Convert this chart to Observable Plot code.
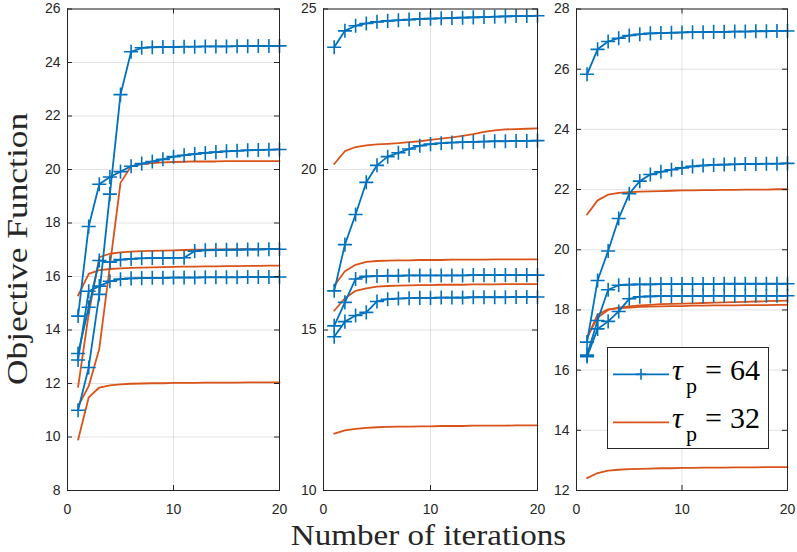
<!DOCTYPE html>
<html>
<head>
<meta charset="utf-8">
<script src="https://cdn.jsdelivr.net/npm/d3@7"></script>
<script src="https://cdn.jsdelivr.net/npm/@observablehq/plot@0.6"></script>
<style>
  html, body { margin: 0; padding: 0; background: #fff; }
  #wrap { position: relative; width: 797px; height: 552px; overflow: hidden; }
  #wrap svg { position: absolute; top: 0; }
</style>
</head>
<body>
<div id="wrap"></div>
<script>
// ---------- data ----------
const iters = [1,2,3,4,5,6,7,8,9,10,11,12,13,14,15,16,17,18,19,20];
const xTicks = [0, 10, 20];

// Panel 1
const p1Ticks = [8,10,12,14,16,18,20,22,24,26];
const p1_64a = [11.0, 12.6, 15.33, 19.08, 22.8, 24.4, 24.55, 24.57, 24.58, 24.58, 24.59, 24.59, 24.6, 24.6, 24.6, 24.61, 24.61, 24.62, 24.62, 24.62];
const p1_64b = [14.52, 17.87, 19.45, 19.72, 19.92, 20.12, 20.22, 20.3, 20.38, 20.48, 20.53, 20.58, 20.62, 20.65, 20.68, 20.7, 20.72, 20.73, 20.74, 20.75];
const p1_64c = [13.12, 14.85, 16.6, 16.53, 16.63, 16.66, 16.68, 16.69, 16.69, 16.7, 16.7, 16.95, 16.98, 16.99, 17.0, 17.0, 17.01, 17.01, 17.02, 17.02];
const p1_64d = [12.88, 15.45, 15.64, 15.82, 15.9, 15.93, 15.94, 15.95, 15.95, 15.96, 15.96, 15.96, 15.97, 15.97, 15.97, 15.97, 15.98, 15.98, 15.98, 15.98];
const p1_32a = [11.15, 11.9, 13.3, 16.4, 19.5, 20.12, 20.2, 20.24, 20.27, 20.28, 20.29, 20.3, 20.3, 20.3, 20.31, 20.31, 20.31, 20.31, 20.31, 20.31];
const p1_32b = [11.87, 14.6, 16.72, 16.85, 16.9, 16.93, 16.95, 16.96, 16.97, 16.98, 16.99, 17.0, 17.0, 17.01, 17.01, 17.02, 17.02, 17.02, 17.03, 17.03];
const p1_32c = [15.29, 16.1, 16.24, 16.28, 16.3, 16.32, 16.33, 16.34, 16.35, 16.36, 16.37, 16.37, 16.38, 16.38, 16.39, 16.39, 16.4, 16.4, 16.41, 16.41];
const p1_32d = [9.9, 11.48, 11.85, 11.93, 11.97, 11.99, 12.0, 12.01, 12.01, 12.02, 12.02, 12.02, 12.03, 12.03, 12.03, 12.03, 12.04, 12.04, 12.04, 12.04];

// Panel 2
const p2Ticks = [10,15,20,25];
const p2_64a = [23.81, 24.32, 24.48, 24.55, 24.6, 24.63, 24.65, 24.67, 24.69, 24.7, 24.71, 24.72, 24.73, 24.74, 24.75, 24.76, 24.77, 24.78, 24.78, 24.79];
const p2_64b = [16.22, 17.66, 18.6, 19.6, 20.13, 20.4, 20.52, 20.64, 20.74, 20.79, 20.82, 20.84, 20.85, 20.86, 20.87, 20.88, 20.88, 20.89, 20.89, 20.9];
const p2_64c = [15.13, 15.86, 16.59, 16.67, 16.68, 16.69, 16.69, 16.7, 16.7, 16.7, 16.7, 16.7, 16.7, 16.71, 16.71, 16.71, 16.71, 16.71, 16.71, 16.71];
const p2_64d = [14.79, 15.26, 15.45, 15.55, 15.89, 15.96, 15.98, 15.99, 16.0, 16.0, 16.01, 16.01, 16.01, 16.02, 16.02, 16.02, 16.02, 16.03, 16.03, 16.03];
const p2_32a = [20.17, 20.57, 20.7, 20.75, 20.78, 20.8, 20.82, 20.85, 20.88, 20.92, 20.96, 21.0, 21.05, 21.1, 21.17, 21.22, 21.25, 21.26, 21.27, 21.28];
const p2_32b = [16.38, 16.83, 17.03, 17.12, 17.15, 17.16, 17.17, 17.17, 17.18, 17.18, 17.18, 17.19, 17.19, 17.19, 17.19, 17.2, 17.2, 17.2, 17.2, 17.2];
const p2_32c = [15.6, 15.99, 16.22, 16.3, 16.35, 16.37, 16.38, 16.39, 16.4, 16.4, 16.41, 16.41, 16.41, 16.42, 16.42, 16.42, 16.43, 16.43, 16.43, 16.43];
const p2_32d = [11.77, 11.87, 11.92, 11.95, 11.97, 11.98, 11.99, 11.99, 12.0, 12.0, 12.01, 12.01, 12.01, 12.02, 12.02, 12.02, 12.02, 12.03, 12.03, 12.03];

// Panel 3
const p3Ticks = [12,14,16,18,20,22,24,26,28];
const p3_64a = [25.83, 26.66, 26.92, 27.03, 27.12, 27.16, 27.19, 27.2, 27.21, 27.22, 27.23, 27.23, 27.24, 27.24, 27.25, 27.25, 27.26, 27.26, 27.27, 27.27];
const p3_64b = [16.93, 18.98, 19.96, 21.04, 21.86, 22.28, 22.5, 22.59, 22.66, 22.72, 22.77, 22.8, 22.82, 22.83, 22.84, 22.85, 22.85, 22.86, 22.86, 22.87];
const p3_64c = [16.5, 17.65, 18.67, 18.82, 18.84, 18.85, 18.85, 18.86, 18.86, 18.86, 18.86, 18.86, 18.86, 18.87, 18.87, 18.87, 18.87, 18.87, 18.87, 18.87];
const p3_64d = [16.45, 17.37, 17.62, 17.95, 18.37, 18.44, 18.45, 18.46, 18.46, 18.46, 18.46, 18.46, 18.47, 18.47, 18.47, 18.47, 18.47, 18.47, 18.47, 18.47];
const p3_32a = [21.17, 21.64, 21.83, 21.89, 21.91, 21.93, 21.94, 21.95, 21.96, 21.97, 21.97, 21.98, 21.98, 21.99, 21.99, 22.0, 22.0, 22.0, 22.01, 22.01];
const p3_32b = [17.1, 17.75, 18.0, 18.08, 18.12, 18.15, 18.17, 18.19, 18.2, 18.21, 18.22, 18.23, 18.24, 18.25, 18.26, 18.27, 18.28, 18.29, 18.3, 18.31];
const p3_32c = [17.05, 17.85, 18.02, 18.06, 18.08, 18.1, 18.11, 18.12, 18.13, 18.13, 18.14, 18.14, 18.15, 18.15, 18.15, 18.16, 18.16, 18.16, 18.17, 18.17];
const p3_32d = [12.41, 12.58, 12.66, 12.69, 12.71, 12.72, 12.73, 12.74, 12.74, 12.75, 12.75, 12.76, 12.76, 12.76, 12.77, 12.77, 12.77, 12.78, 12.78, 12.78];

const legendLabels = ["64", "32"];

// ---------- style ----------
const BLUE = "#0072BD";
const ORANGE = "#D95319";
const INK = "#262626";
const H = 552, MT = 8.5, MB = 62;

function panel({s64, s32, yTicks, left, width, ml, mr}) {
  const plotW = width - ml - mr;
  const plotH = H - MT - MB;
  const tick = 5;
  const marks = [
    Plot.gridY(yTicks, {stroke: INK, strokeOpacity: 0.13}),
    Plot.gridX(xTicks, {stroke: INK, strokeOpacity: 0.13}),
  ];
  for (const s of s32) {
    marks.push(Plot.line(s, {x: iters, y: s, stroke: ORANGE, strokeWidth: 1.8}));
  }
  for (const s of s64) {
    marks.push(Plot.line(s, {x: iters, y: s, stroke: BLUE, strokeWidth: 1.8}));
    marks.push(Plot.dot(s, {x: iters, y: s, symbol: "plus", r: 4.6, stroke: BLUE, strokeWidth: 1.6}));
  }
  marks.push(
    Plot.ruleY(yTicks, {insetRight: plotW - tick, stroke: INK}),
    Plot.ruleY(yTicks, {insetLeft: plotW - tick, stroke: INK}),
    Plot.ruleX(xTicks, {insetTop: plotH - tick, stroke: INK}),
    Plot.ruleX(xTicks, {insetBottom: plotH - tick, stroke: INK}),
    Plot.frame({stroke: INK, strokeWidth: 1}),
    Plot.axisY(yTicks, {tickSize: 0, tickPadding: 7, label: null, fill: INK}),
    Plot.axisX(xTicks, {tickSize: 0, tickPadding: 14, label: null, fill: INK})
  );
  const svg = Plot.plot({
    width, height: H,
    marginLeft: ml, marginRight: mr, marginTop: MT, marginBottom: MB,
    x: {domain: [0, 20]},
    y: {domain: [yTicks[0], yTicks[yTicks.length - 1]]},
    style: {fontFamily: "'Liberation Sans', Arial, sans-serif", fontSize: "14px", color: INK, background: "transparent"},
    marks
  });
  svg.style.left = left + "px";
  return svg;
}

const wrap = document.getElementById("wrap");
wrap.appendChild(panel({s64: [p1_64a, p1_64b, p1_64c, p1_64d], s32: [p1_32a, p1_32b, p1_32c, p1_32d], yTicks: p1Ticks, left: 0, width: 290, ml: 67, mr: 11}));
wrap.appendChild(panel({s64: [p2_64a, p2_64b, p2_64c, p2_64d], s32: [p2_32a, p2_32b, p2_32c, p2_32d], yTicks: p2Ticks, left: 290, width: 257, ml: 33, mr: 10}));
wrap.appendChild(panel({s64: [p3_64a, p3_64b, p3_64c, p3_64d], s32: [p3_32a, p3_32b, p3_32c, p3_32d], yTicks: p3Ticks, left: 545, width: 252, ml: 31, mr: 10}));

// ---------- overlay: axis titles + legend ----------
const NS = "http://www.w3.org/2000/svg";
const ov = document.createElementNS(NS, "svg");
ov.setAttribute("width", 797); ov.setAttribute("height", 552);
ov.style.left = "0px";
ov.style.fontFamily = "'Liberation Serif', 'Times New Roman', serif";
function el(tag, attrs, text) {
  const e = document.createElementNS(NS, tag);
  for (const k in attrs) e.setAttribute(k, attrs[k]);
  if (text != null) e.textContent = text;
  ov.appendChild(e);
  return e;
}
el("text", {transform: "translate(428.5,544.5) scale(1.14,1)", "text-anchor": "middle", "font-size": 29, fill: INK}, "Number of iterations");
el("text", {transform: "translate(27,249) rotate(-90) scale(1.18,1)", "text-anchor": "middle", "font-size": 30, fill: INK}, "Objective Function");

// legend
el("rect", {x: 607.5, y: 347.5, width: 161, height: 101, fill: "#fff", stroke: INK, "stroke-width": 1});
const rows = [{y: 374.3, color: BLUE, marker: true}, {y: 422.3, color: ORANGE, marker: false}];
rows.forEach((r, i) => {
  el("line", {x1: 613, x2: 669, y1: r.y, y2: r.y, stroke: r.color, "stroke-width": 1.8});
  if (r.marker) {
    el("line", {x1: 641, x2: 641, y1: r.y - 5.5, y2: r.y + 5.5, stroke: r.color, "stroke-width": 1.6});
    el("line", {x1: 635.5, x2: 646.5, y1: r.y, y2: r.y, stroke: r.color, "stroke-width": 1.6});
  }
  const base = r.y + 6;
  el("text", {x: 672, y: base, "font-size": 30, "font-style": "italic", fill: "#000"}, "τ");
  el("text", {x: 686, y: base + 12.5, "font-size": 22, fill: "#000"}, "p");
  el("text", {x: 705, y: base, "font-size": 30, fill: "#000"}, "=");
  el("text", {x: 730, y: base, "font-size": 30, fill: "#000"}, legendLabels[i]);
});
wrap.appendChild(ov);
</script>
</body>
</html>
